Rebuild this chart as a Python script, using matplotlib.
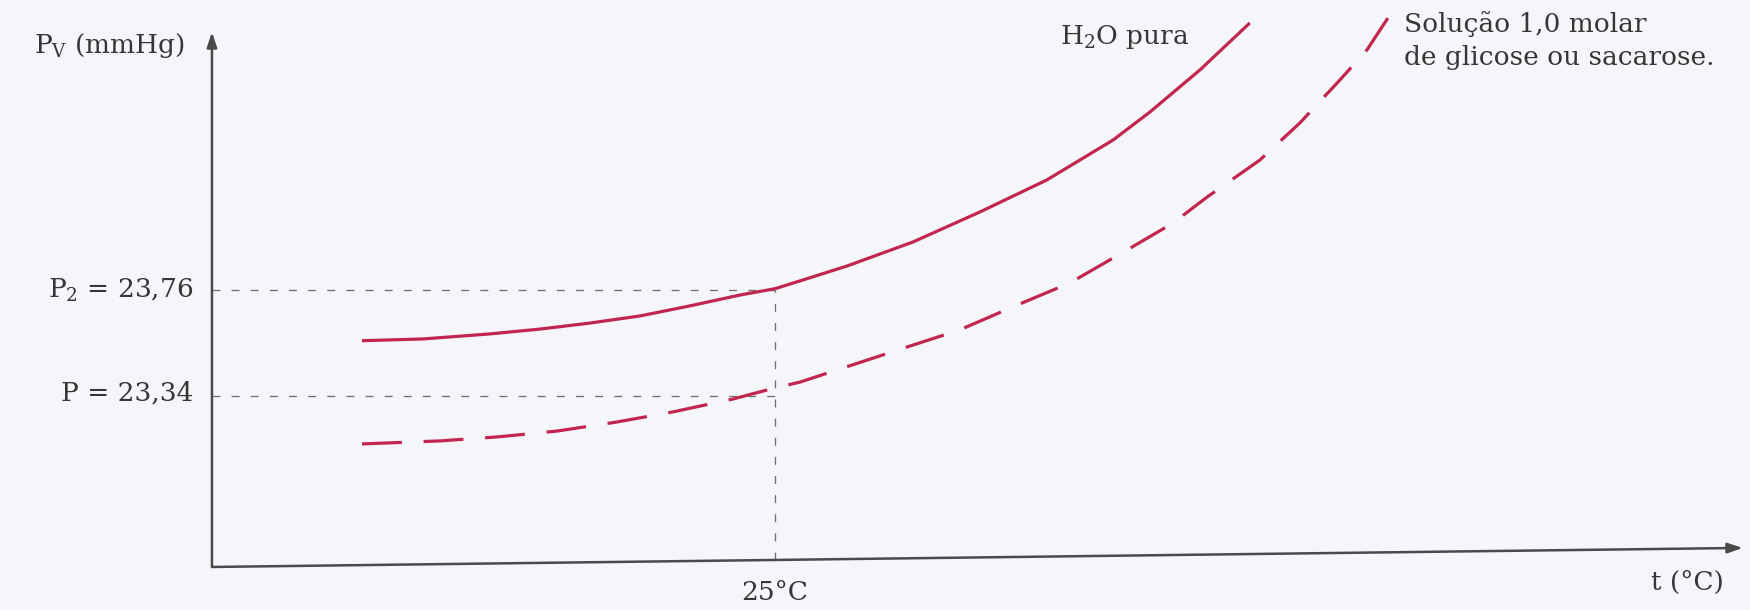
import matplotlib
matplotlib.use('Agg')
import matplotlib.pyplot as plt

# curve data (t in °C, vapour pressure in mmHg)
t_pura = [10.33, 12.50, 14.88, 16.65, 18.43, 20.20, 21.98, 23.76, 25.0, 25.89,
          27.56, 29.90, 32.28, 34.66, 37.01, 38.32, 40.10, 41.87]
p_pura = [23.559, 23.566, 23.586, 23.605, 23.629, 23.657, 23.697, 23.740, 23.765,
          23.796, 23.855, 23.950, 24.069, 24.196, 24.354, 24.465, 24.632, 24.818]

t_sol = [10.33, 13.10, 15.16, 17.26, 19.39, 21.38, 23.51, 25.0, 25.89, 29.69,
         31.57, 33.45, 35.48, 37.33, 39.14, 40.35, 42.23, 43.65, 45.07, 46.03, 46.85]
p_sol = [23.150, 23.162, 23.178, 23.201, 23.237, 23.277, 23.328, 23.372, 23.395,
         23.534, 23.602, 23.693, 23.788, 23.907, 24.025, 24.128, 24.275, 24.422,
         24.592, 24.711, 24.850]

t_ref = 25.0
p2 = 23.76
p1 = 23.34
p2_label = 'P$_\\mathregular{2}$ = 23,76'
p1_label = 'P = 23,34'
t_label = '25°C'

# axes (the scanned x axis is a little tilted)
t0 = 5.0
p_left, p_right = 22.6625, 22.738
t_end, p_end = 59.39, 24.782
p_base_ref = 22.690          # x axis height under 25 °C

bg = '#f5f6fa'
red = '#c2264f'
ink = '#363636'
guide = '#6e6e6e'
axis_c = '#4a4a4a'

plt.rcParams['font.family'] = ['DejaVu Serif']
plt.rcParams['mathtext.fontset'] = 'dejavuserif'

fig = plt.figure(figsize=(17.5, 6.1), dpi=100)
fig.patch.set_facecolor(bg)
ax = fig.add_axes([0, 0, 1, 1])
ax.set_facecolor(bg)
ax.set_xlim(-2.53, 59.64)
ax.set_ylim(22.492, 24.909)
ax.axis('off')

arrow = dict(arrowstyle='-|>,head_length=0.9,head_width=0.3',
             color=axis_c, lw=1.8, shrinkA=0, shrinkB=0)
ax.annotate('', xy=(t_end, p_right), xytext=(t0, p_left), arrowprops=arrow)
ax.annotate('', xy=(t0, p_end), xytext=(t0, p_left), arrowprops=arrow)

# guide lines
gkw = dict(color=guide, lw=0.95, dashes=(6, 8.5))
ax.plot([t0, t_ref], [p2, p2], **gkw)
ax.plot([t0, t_ref], [p1, p1], **gkw)
ax.plot([t_ref, t_ref], [p_base_ref, p2], **gkw)

# curves
ax.plot(t_pura, p_pura, color=red, lw=2.3, solid_joinstyle='round',
        solid_capstyle='butt')
ax.plot(t_sol, p_sol, color=red, lw=2.3, dashes=(12.5, 6.8),
        dash_joinstyle='round')

fs = 19
ax.text(4.04, 24.728, 'P$_\\mathregular{V}$ (mmHg)', ha='right', va='center',
        fontsize=fs, color=ink)
ax.text(4.33, p2, p2_label, ha='right', va='center', fontsize=fs, color=ink)
ax.text(4.33, p1 + 0.01, p1_label, ha='right', va='center', fontsize=fs, color=ink)
ax.text(t_ref, 22.563, t_label, ha='center', va='center', fontsize=fs, color=ink)
ax.text(57.43, 22.60, 't (°C)', ha='center', va='center', fontsize=fs, color=ink)
ax.text(35.12, 24.762, 'H$_\\mathregular{2}$O pura', ha='left', va='center',
        fontsize=fs, color=ink)
ax.text(47.34, 24.815, 'Solução 1,0 molar', ha='left', va='center',
        fontsize=fs, color=ink)
ax.text(47.34, 24.682, 'de glicose ou sacarose.', ha='left', va='center',
        fontsize=fs, color=ink)

fig.savefig('out.png', dpi=100, facecolor=bg)
